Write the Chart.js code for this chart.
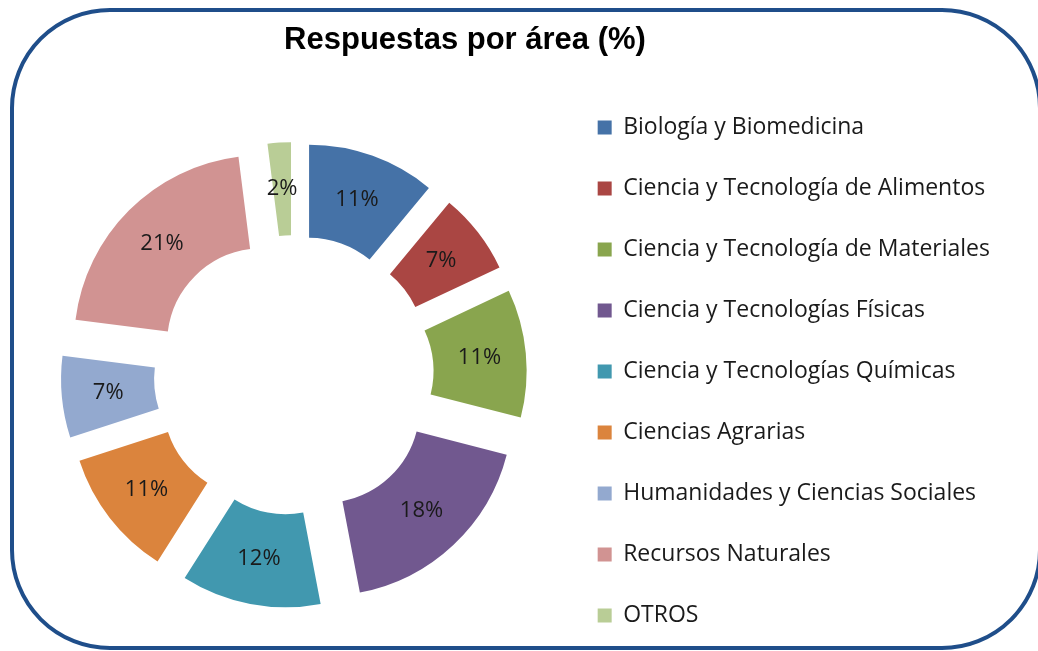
<!DOCTYPE html>
<html>
<head>
<meta charset="utf-8">
<title>Respuestas por área</title>
<script src="https://cdn.jsdelivr.net/npm/chart.js@4.4.0/dist/chart.umd.min.js"></script>
<style>
    html, body { margin: 0; padding: 0; background: #fff; }
    #wrap { position: relative; width: 1038px; height: 651px; overflow: hidden; }
    #frame {
        position: absolute; left: 10px; top: 8px; width: 1032px; height: 642px;
        box-sizing: border-box; border: 4px solid #1F4E8A; border-radius: 100px;
    }
    canvas { position: absolute; left: 0; top: 0; }
</style>
</head>
<body>
<div id="wrap">
    <div id="frame"></div>
    <canvas id="areaChart" width="1038" height="651"></canvas>
</div>
<script>
// Data
const areas = [
    'Biología y Biomedicina',
    'Ciencia y Tecnología de Alimentos',
    'Ciencia y Tecnología de Materiales',
    'Ciencia y Tecnologías Físicas',
    'Ciencia y Tecnologías Químicas',
    'Ciencias Agrarias',
    'Humanidades y Ciencias Sociales',
    'Recursos Naturales',
    'OTROS'
];
const percentages = [11, 7, 11, 18, 12, 11, 7, 21, 2];
const sliceColors = [
    '#4572A7', '#AA4643', '#89A54E', '#71588F', '#4198AF',
    '#DB843D', '#93A9CF', '#D19392', '#B9CD96'
];

const explodePx = 45; // how far each slice is pulled out
const legendShift = 46; // legend sits a bit lower than Chart.js centres it

// Draw the slices pulled out along their mid angle
const explodePlugin = {
    id: 'explode',
    afterLayout(chart) {
        // title sits centred over the left part of the box, like the original
        chart.titleBlock.left = 0;
        chart.titleBlock.right = 930;
        chart.legend.top += legendShift;
        chart.legend.bottom += legendShift;
    },
    beforeDatasetDraw(chart, args) {
        const ctx = chart.ctx;
        args.meta.data.forEach(arc => {
            const mid = (arc.startAngle + arc.endAngle) / 2;
            ctx.save();
            ctx.translate(Math.cos(mid) * explodePx, Math.sin(mid) * explodePx);
            arc.draw(ctx, chart.chartArea);
            ctx.restore();
        });
        return false;
    },
    afterDatasetsDraw(chart) {
        const ctx = chart.ctx;
        const meta = chart.getDatasetMeta(0);
        ctx.save();
        ctx.font = '22px "Open Sans"';
        ctx.fillStyle = '#1a1a1a';
        ctx.textAlign = 'center';
        ctx.textBaseline = 'middle';
        meta.data.forEach((arc, i) => {
            const mid = (arc.startAngle + arc.endAngle) / 2;
            const r = (arc.innerRadius + arc.outerRadius) / 2 + explodePx;
            ctx.fillText(percentages[i] + '%', arc.x + Math.cos(mid) * r, arc.y + Math.sin(mid) * r);
        });
        ctx.restore();
    }
};

const areaCtx = document.getElementById('areaChart').getContext('2d');
new Chart(areaCtx, {
    type: 'doughnut',
    data: {
        labels: areas,
        datasets: [{
            data: percentages,
            backgroundColor: sliceColors,
            borderWidth: 0
        }]
    },
    options: {
        responsive: false,
        animation: false,
        radius: 188,
        cutout: '50.5%',
        layout: { padding: { left: 28, right: 38 } },
        plugins: {
            title: {
                display: true,
                text: 'Respuestas por área (%)',
                color: '#000',
                font: { family: 'Liberation Sans', size: 31, weight: 'bold' },
                padding: { top: 22, bottom: 40 }
            },
            legend: {
                position: 'right',
                labels: {
                    boxWidth: 14,
                    boxHeight: 14,
                    padding: 38,
                    color: '#1a1a1a',
                    font: { family: 'Open Sans', size: 23 }
                }
            },
            tooltip: { enabled: false }
        }
    },
    plugins: [explodePlugin]
});
</script>
</body>
</html>
